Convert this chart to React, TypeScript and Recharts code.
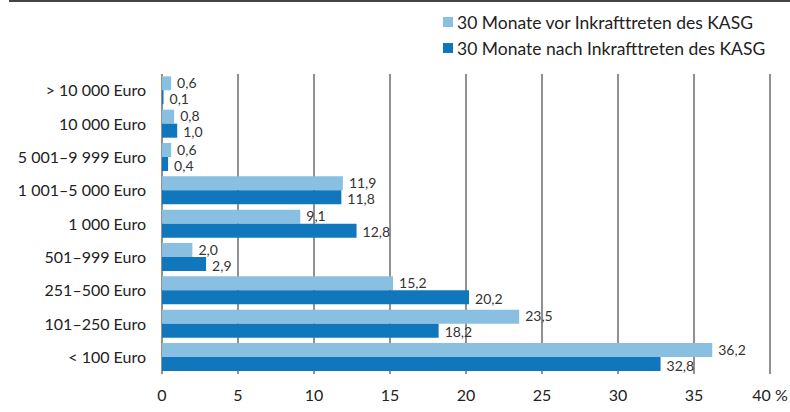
import { BarChart, Bar, XAxis, YAxis, CartesianGrid, LabelList } from "recharts";

// Einkommensklassen, von oben nach unten
const categories = [
	"> 10 000 Euro",
	"10 000 Euro",
	"5 001–9 999 Euro",
	"1 001–5 000 Euro",
	"1 000 Euro",
	"501–999 Euro",
	"251–500 Euro",
	"101–250 Euro",
	"< 100 Euro",
];
const vorValues = [0.6, 0.8, 0.6, 11.9, 9.1, 2.0, 15.2, 23.5, 36.2];
const nachValues = [0.1, 1.0, 0.4, 11.8, 12.8, 2.9, 20.2, 18.2, 32.8];
const xTicks = [0, 5, 10, 15, 20, 25, 30, 35, 40];

const vorLabel = "30 Monate vor Inkrafttreten des KASG";
const nachLabel = "30 Monate nach Inkrafttreten des KASG";

const LIGHT = "#89C0E2";
const DARK = "#1177BD";
const FONT = "Lato, sans-serif";

const chartData = categories.map((name, i) => ({
	name,
	vor: vorValues[i],
	nach: nachValues[i],
}));

const fmt = (v: number) => v.toFixed(1).replace(".", ",");

// Wertbeschriftung rechts neben dem Balken, leicht nach oben/unten versetzt
const valueLabel = (shift: number) => (props: any) => {
	const { x, y, width, height, value } = props;
	return (
		<text
			x={Number(x) + Number(width) + 6}
			y={Number(y) + Number(height) / 2 + shift}
			dominantBaseline="central"
			fill="#333"
			fontSize={14}
			fontFamily={FONT}
		>
			{fmt(Number(value))}
		</text>
	);
};

// Legende als einfaches HTML oben rechts
function LegendBox() {
	const items = [
		{ label: vorLabel, color: LIGHT },
		{ label: nachLabel, color: DARK },
	];
	return (
		<div
			style={{
				position: "absolute",
				left: 443,
				top: 9,
				fontFamily: FONT,
				fontSize: 17.5,
				color: "#222",
			}}
		>
			{items.map((item) => (
				<div
					key={item.label}
					style={{ display: "flex", alignItems: "center", height: 26 }}
				>
					<span
						style={{
							width: 10,
							height: 10,
							background: item.color,
							marginRight: 4,
							display: "inline-block",
						}}
					/>
					<span>{item.label}</span>
				</div>
			))}
		</div>
	);
}

export default function App() {
	return (
		<div
			style={{
				position: "absolute",
				left: 0,
				top: 0,
				width: 790,
				height: 412,
				background: "#fff",
			}}
		>
			<div
				style={{
					position: "absolute",
					left: 9,
					right: 0,
					top: 0,
					height: 2,
					background: "#444",
				}}
			/>
			<LegendBox />
			<BarChart
				width={790}
				height={412}
				data={chartData}
				layout="vertical"
				margin={{ top: 74, right: 20, left: 0, bottom: 0 }}
				barCategoryGap="7%"
				barGap={0}
			>
				<CartesianGrid horizontal={false} stroke="#222" />
				<XAxis
					type="number"
					domain={[0, 40]}
					ticks={xTicks}
					axisLine={false}
					tickLine={false}
					tickSize={6}
					tickMargin={10}
					height={38}
					tick={{ fill: "#222", fontSize: 16, fontFamily: FONT }}
					tickFormatter={(v: number) => (v === 40 ? "40 %" : String(v))}
				/>
				<YAxis
					type="category"
					dataKey="name"
					width={162}
					axisLine={false}
					tickLine={false}
					tickSize={6}
					tickMargin={10}
					interval={0}
					tick={{ fill: "#222", fontSize: 16, fontFamily: FONT }}
				/>
				<Bar dataKey="vor" fill={LIGHT} isAnimationActive={false}>
					<LabelList dataKey="vor" content={valueLabel(-1)} />
				</Bar>
				<Bar dataKey="nach" fill={DARK} isAnimationActive={false}>
					<LabelList dataKey="nach" content={valueLabel(1)} />
				</Bar>
			</BarChart>
		</div>
	);
}
